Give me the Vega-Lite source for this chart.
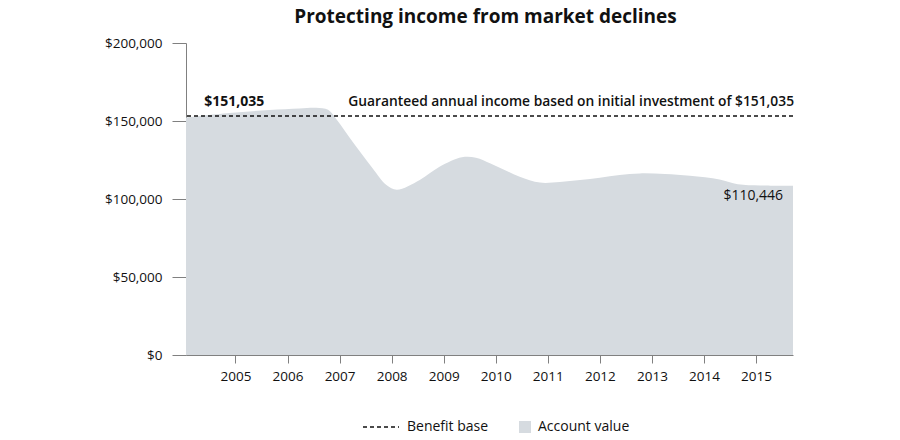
{
  "$schema": "https://vega.github.io/schema/vega-lite/v6.json",
  "width": 607,
  "height": 312,
  "autosize": "none",
  "padding": {"left": 186, "top": 43, "right": 107, "bottom": 85},
  "background": "white",
  "config": {"view": {"stroke": null}, "font": "Open Sans"},
  "title": {
    "text": "Protecting income from market declines",
    "font": "Open Sans",
    "fontSize": 19,
    "fontWeight": "bold",
    "color": "#111111",
    "anchor": "middle",
    "offset": 9,
    "dx": -4
  },
  "datasets": {
    "account": [
      {"year": 2004.05, "value": 152200},
      {"year": 2004.88, "value": 155100},
      {"year": 2005.65, "value": 157000},
      {"year": 2006.23, "value": 158000},
      {"year": 2006.55, "value": 158500},
      {"year": 2006.78, "value": 157200},
      {"year": 2006.95, "value": 150600},
      {"year": 2007.25, "value": 136700},
      {"year": 2007.63, "value": 119900},
      {"year": 2007.9, "value": 109000},
      {"year": 2008.1, "value": 106000},
      {"year": 2008.54, "value": 112200},
      {"year": 2008.92, "value": 120700},
      {"year": 2009.35, "value": 126800},
      {"year": 2009.62, "value": 126500},
      {"year": 2009.9, "value": 122800},
      {"year": 2010.17, "value": 118600},
      {"year": 2010.46, "value": 114300},
      {"year": 2010.85, "value": 110500},
      {"year": 2011.23, "value": 110900},
      {"year": 2011.62, "value": 112200},
      {"year": 2012.0, "value": 113700},
      {"year": 2012.38, "value": 115400},
      {"year": 2012.77, "value": 116400},
      {"year": 2013.25, "value": 116000},
      {"year": 2013.73, "value": 114900},
      {"year": 2014.3, "value": 112500},
      {"year": 2014.65, "value": 109500},
      {"year": 2015.08, "value": 108700},
      {"year": 2015.71, "value": 108500}
    ],
    "benefit": [{"value": 153200, "series": "Benefit base"}],
    "one": [{}]
  },
  "layer": [
    {
      "data": {"name": "account"},
      "transform": [{"calculate": "'Account value'", "as": "series"}],
      "mark": {"type": "area", "interpolate": "catmull-rom"},
      "encoding": {
        "x": {
          "field": "year",
          "type": "quantitative",
          "scale": {"domain": [2004.05, 2015.71], "nice": false, "zero": false},
          "axis": {
            "values": [2005, 2006, 2007, 2008, 2009, 2010, 2011, 2012, 2013, 2014, 2015],
            "format": "d",
            "title": null,
            "grid": false,
            "domainColor": "#808080",
            "tickColor": "#808080",
            "tickSize": 8,
            "labelPadding": 6,
            "labelFont": "Open Sans",
            "labelFontSize": 13.5,
            "labelColor": "#111111"
          }
        },
        "y": {
          "field": "value",
          "type": "quantitative",
          "scale": {"domain": [0, 200000], "nice": false},
          "axis": {
            "values": [0, 25000, 50000, 75000, 100000, 125000, 150000, 175000, 200000],
            "labelExpr": "datum.value % 50000 === 0 ? '$' + format(datum.value, ',') : ''",
            "title": null,
            "grid": false,
            "domainColor": "#808080",
            "tickColor": "#808080",
            "tickSize": {"condition": {"test": "datum.value % 50000 === 0", "value": 14}, "value": 7},
            "labelPadding": 10,
            "labelFont": "Open Sans",
            "labelFontSize": 13.5,
            "labelColor": "#111111"
          }
        },
        "fill": {
          "field": "series",
          "type": "nominal",
          "scale": {"domain": ["Account value"], "range": ["#d6dbe0"]},
          "legend": {
            "title": null,
            "orient": "none",
            "legendX": 332,
            "legendY": 377,
            "symbolType": "square",
            "symbolSize": 144,
            "symbolStrokeWidth": 0,
            "labelFont": "Open Sans",
            "labelFontSize": 14,
            "labelColor": "#111111",
            "labelOffset": 6
          }
        }
      }
    },
    {
      "data": {"name": "benefit"},
      "mark": {"type": "rule", "color": "#111111", "strokeWidth": 1.5},
      "encoding": {
        "y": {"field": "value", "type": "quantitative"},
        "strokeDash": {
          "field": "series",
          "type": "nominal",
          "scale": {"domain": ["Benefit base"], "range": [[4, 3]]},
          "legend": {
            "title": null,
            "orient": "none",
            "legendX": 176,
            "legendY": 365,
            "symbolType": "stroke",
            "symbolSize": 1296,
            "symbolStrokeColor": "#111111",
            "symbolStrokeWidth": 1.5,
            "labelFont": "Open Sans",
            "labelFontSize": 14,
            "labelColor": "#111111",
            "labelOffset": 7
          }
        }
      }
    },
    {
      "data": {"name": "one"},
      "mark": {"type": "text", "align": "left", "baseline": "middle", "font": "Open Sans", "fontSize": 14, "fontWeight": "bold", "color": "#111111"},
      "encoding": {
        "x": {"datum": 2004.4, "type": "quantitative"},
        "y": {"datum": 162200, "type": "quantitative"},
        "text": {"value": "$151,035"}
      }
    },
    {
      "data": {"name": "one"},
      "mark": {"type": "text", "align": "right", "baseline": "middle", "font": "Open Sans", "fontSize": 13.8, "fontWeight": 600, "color": "#111111"},
      "encoding": {
        "x": {"datum": 2015.73, "type": "quantitative"},
        "y": {"datum": 162200, "type": "quantitative"},
        "text": {"value": "Guaranteed annual  income based on initial investment of $151,035"}
      }
    },
    {
      "data": {"name": "one"},
      "mark": {"type": "text", "align": "right", "baseline": "middle", "font": "Open Sans", "fontSize": 14, "color": "#111111"},
      "encoding": {
        "x": {"datum": 2015.52, "type": "quantitative"},
        "y": {"datum": 101900, "type": "quantitative"},
        "text": {"value": "$110,446"}
      }
    }
  ]
}
